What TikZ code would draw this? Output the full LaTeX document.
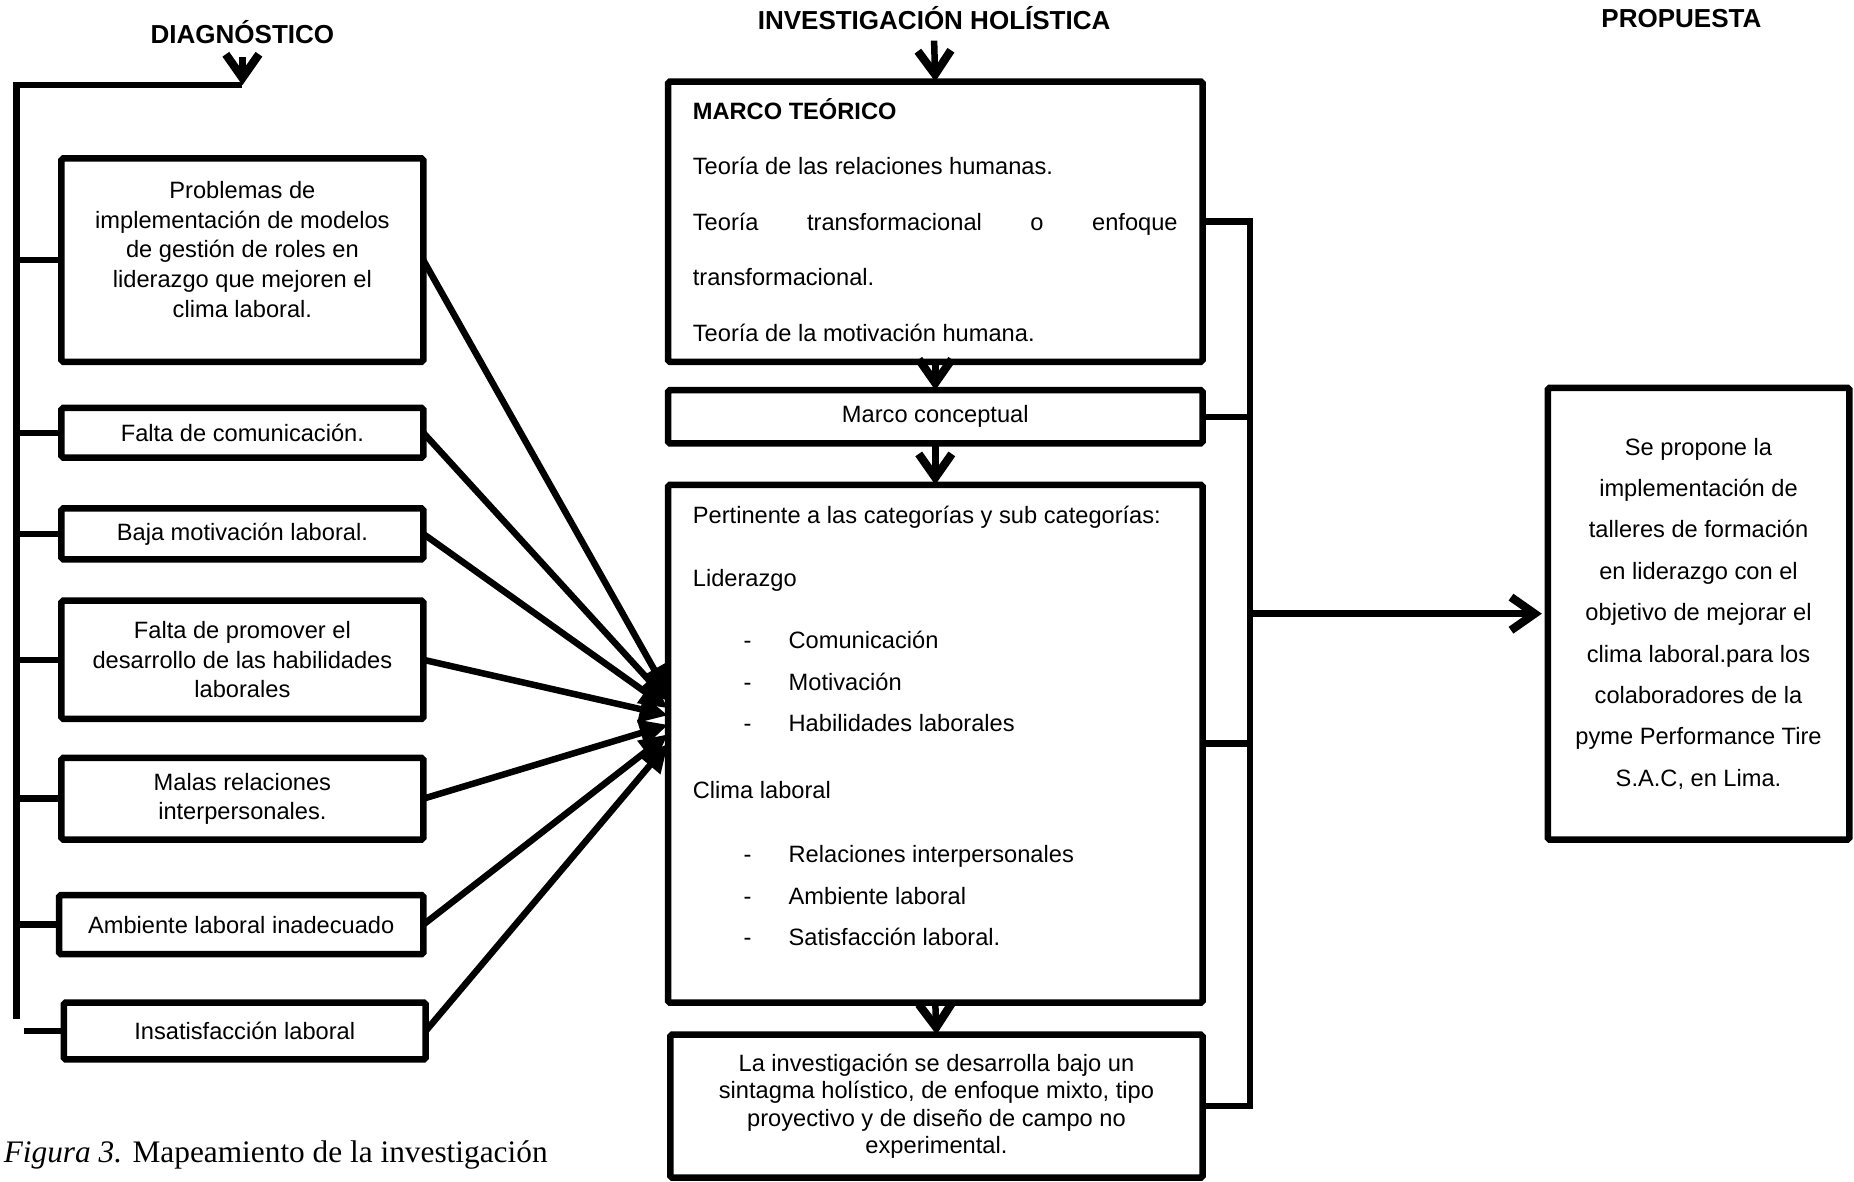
\documentclass[tikz,border=0pt]{standalone}
\usepackage{fontspec}
\setmainfont{Liberation Sans}
\newfontfamily\captionfont{Liberation Serif}
\usetikzlibrary{arrows.meta,positioning,calc}

% item with dash
\newcommand{\guion}[1]{\makebox[81pt][l]{\hspace*{43pt}-}#1}

\begin{document}
\begin{tikzpicture}[
  x=1pt, y=-1pt,
  caja/.style={draw, line width=5.5pt, rounded corners=1.5pt, outer sep=0pt, inner sep=0pt, anchor=north west, align=center, font=\fontsize{20}{25}\selectfont},
  texto/.style={inner sep=0pt, outer sep=0pt, anchor=north west, align=left},
  titulo/.style={font=\bfseries\fontsize{22}{26}\selectfont},
  linea/.style={line width=5.5pt, line join=miter},
  flecha/.style={line width=5.5pt, -{Straight Barb[length=20pt,width=28pt,line width=7pt]}},
  flechita/.style={line width=5.5pt, -{Triangle[length=24pt,width=22pt]}}
]
\useasboundingbox (0,0) rectangle (1568,999);

% titles
\node[titulo] (diag) at (205,27) {DIAGNÓSTICO};
\node[titulo] (inv) at (790,15) {INVESTIGACIÓN HOLÍSTICA};
\node[titulo] (prop) at (1422,16) {PROPUESTA};

% diagnostico
\node[caja, minimum width=306pt, minimum height=172pt] (prob) at (52,134) {};
\node[align=center, font=\fontsize{20}{25}\selectfont] (probtxt) at (205,211) {Problemas de\\implementación de modelos\\de gestión de roles en\\liderazgo que mejoren el\\clima laboral.};
\node[caja, minimum width=306pt, minimum height=42pt] (com) at (52,345) {Falta de comunicación.};
\node[caja, minimum width=306pt, minimum height=43pt] (mot) at (52,430) {Baja motivación laboral.};
\node[caja, minimum width=306pt, minimum height=100pt] (hab) at (52,508) {Falta de promover el\\desarrollo de las habilidades\\laborales};
\node[caja, minimum width=306pt, minimum height=69pt] (rel) at (52,641) {Malas relaciones\\interpersonales.};
\node[caja, minimum width=308pt, minimum height=50pt] (amb) at (50,757) {Ambiente laboral inadecuado};
\node[caja, minimum width=306pt, minimum height=48pt] (ins) at (54,848) {Insatisfacción laboral};

% left bracket
\coordinate (lb) at (14,72);
\coordinate (lbend) at (14,862);
\draw[flecha] ([yshift=-8pt]diag.south) -- (diag.south |- lb);
\draw[linea] (diag.south |- lb) -- (lb) -- (lbend);
\foreach \n in {prob,com,mot,hab,rel,amb}
  \draw[linea] (\n.west -| lb) -- (\n.west);
\draw[linea] ([xshift=-34pt]ins.west) -- (ins.west);

% investigacion holistica
\node[caja, minimum width=452pt, minimum height=237pt] (marco) at (565,69) {};
\node[texto, font=\fontsize{20}{47}\selectfont] (marcotxt) at (586,83) {{\bfseries MARCO TEÓRICO}\\
Teoría de las relaciones humanas.\\
\hbox to 410pt{Teoría\hfill transformacional\hfill o\hfill enfoque}\\
transformacional.\\
Teoría de la motivación humana.};
\node[caja, minimum width=452pt, minimum height=45pt] (conc) at (565,330) {Marco conceptual};
\node[caja, minimum width=452pt, minimum height=438pt] (pert) at (565,410) {};
\node[texto, font=\fontsize{20}{35}\selectfont] (perttxt) at (586,428) {Pertinente a las categorías y sub categorías:\\[18pt]
Liderazgo\\[18pt]
\guion{Comunicación}\\
\guion{Motivación}\\
\guion{Habilidades laborales}\\[22pt]
Clima laboral\\[19pt]
\guion{Relaciones interpersonales}\\
\guion{Ambiente laboral}\\
\guion{Satisfacción laboral.}};
\node[caja, minimum width=450pt, minimum height=121pt, font=\fontsize{20}{23}\selectfont] (fin) at (567,875) {La investigación se desarrolla bajo un\\sintagma holístico, de enfoque mixto, tipo\\proyectivo y de diseño de campo no\\experimental.};

\draw[flecha] ([yshift=-6pt]inv.south) -- (marco.north);
\draw[flecha] (marco.south) -- (conc.north);
\draw[flecha] (conc.south) -- (pert.north);
\draw[flecha] (pert.south) -- (fin.north);

% fan into the categories
\foreach \n/\s in {prob/42, com/36, mot/30, hab/24, rel/16, amb/8, ins/0}
  \draw[flechita] (\n.east) -- ([yshift=\s pt]pert.west);

% propuesta
\node[caja, minimum width=255pt, minimum height=382pt, font=\fontsize{20}{35}\selectfont] (propbox) at (1309,328) {Se propone la\\implementación de\\talleres de formación\\en liderazgo con el\\objetivo de mejorar el\\clima laboral.para los\\colaboradores de la\\pyme Performance Tire\\S.A.C, en Lima.};

% right bracket
\coordinate (rb) at (1057,0);
\draw[linea] (marco.east) -- (marco.east -| rb) -- (fin.east -| rb) -- (fin.east);
\draw[linea] (conc.east) -- (conc.east -| rb);
\draw[linea] (pert.east) -- (pert.east -| rb);
\draw[flecha, shorten >=5pt] (propbox.west -| rb) -- (propbox.west);

% caption
\node[anchor=base west, inner sep=0pt, font=\captionfont\fontsize{26.5}{30}\selectfont] (cap) at (3,983) {\textit{Figura 3.} Mapeamiento de la investigación};
\end{tikzpicture}
\end{document}
